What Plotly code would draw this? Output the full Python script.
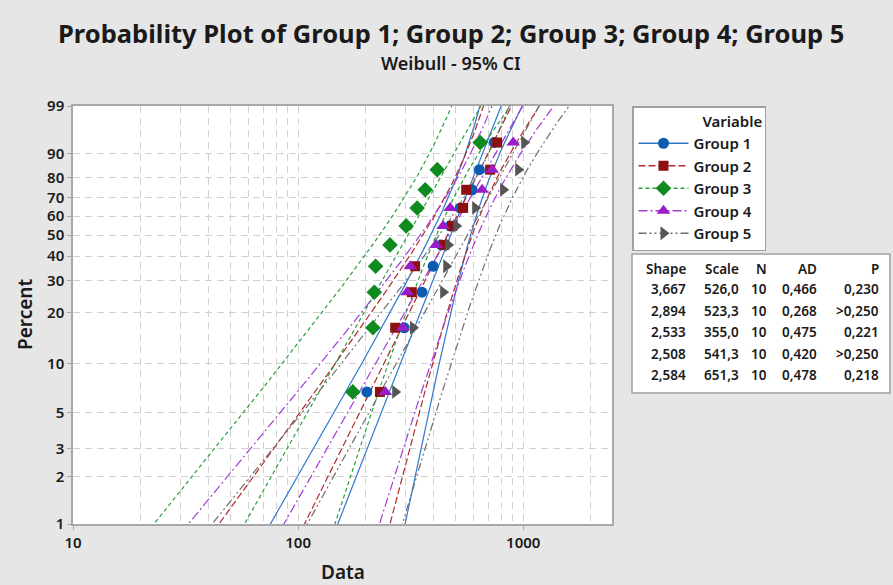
import numpy as np
import plotly.graph_objects as go

# ---------------- data ----------------
groups = ["Group 1", "Group 2", "Group 3", "Group 4", "Group 5"]
shape = [3.667, 2.894, 2.533, 2.508, 2.584]
scale = [526.0, 523.3, 355.0, 541.3, 651.3]
n_obs = [10, 10, 10, 10, 10]
ad_stat = [0.466, 0.268, 0.475, 0.420, 0.478]
p_value = [0.230, 0.250, 0.221, 0.250, 0.218]
p_above = [False, True, False, True, False]

group1 = [202, 296, 355, 398, 432, 474, 525, 593, 639, 743]
group2 = [231, 270, 320, 331, 446, 484, 541, 558, 713, 766]
group3 = [175, 215, 218, 221, 256, 302, 338, 367, 415, 644]
group4 = [244, 292, 305, 315, 410, 441, 474, 657, 728, 903]
group5 = [270, 324, 441, 455, 464, 504, 612, 815, 950, 1010]
group_data = [group1, group2, group3, group4, group5]

percent_ticks = [1, 2, 3, 5, 10, 20, 30, 40, 50, 60, 70, 80, 90, 99]
x_ticks = [10, 100, 1000]
x_minor = [20, 30, 40, 50, 60, 70, 80, 90, 200, 300, 400, 500, 600, 700, 800, 900, 2000]

# ---------------- styles ----------------
marker_colors = ["#0B5CB0", "#8E0F0F", "#0E8A1E", "#9A1CC8", "#555555"]
line_colors = ["#2F78CC", "#B02A2A", "#28A03A", "#A23BD6", "#6E6E6E"]
symbols = ["circle", "square", "diamond", "triangle-up", "triangle-right"]
msizes = [11, 10, 12, 12, 12]
dashes = ["solid", "7px,3px", "4px,3px", "9px,3px,2px,3px", "8px,3px,2px,3px,2px,3px"]

FONT = "Noto Sans, Open Sans, sans-serif"
TXT = "#1A1A1A"
W, H = 893, 585
L, R, T, B = 73, 612, 106, 524
PW, PH = R - L, B - T


def px(xp):
    return (xp - L) / PW


def py(yp):
    return (B - yp) / PH


def wtrans(p):
    p = np.asarray(p, dtype=float)
    return np.log(-np.log(1 - p))


fig = go.Figure()

pgrid = np.linspace(0.005, 0.995, 400)
wgrid = wtrans(pgrid)

for k, g in enumerate(groups):
    x = np.sort(np.asarray(group_data[k], dtype=float))
    n = len(x)
    u = np.log(scale[k])
    b = 1.0 / shape[k]
    z = (np.log(x) - u) / b
    ez = np.exp(z)
    Iuu = n / b**2
    Iub = np.sum(z * ez) / b**2
    Ibb = (n + np.sum(z**2 * ez)) / b**2
    cov = np.linalg.inv(np.array([[Iuu, Iub], [Iub, Ibb]]))
    yp = u + wgrid * b
    var = cov[0, 0] + wgrid**2 * cov[1, 1] + 2 * wgrid * cov[0, 1]
    sd = np.sqrt(var)
    fit_x = np.exp(yp)
    lo_x = np.exp(yp - 1.959964 * sd)
    hi_x = np.exp(yp + 1.959964 * sd)
    line = dict(color=line_colors[k], width=1.2, dash=dashes[k])
    for xs in (lo_x, fit_x, hi_x):
        fig.add_trace(go.Scatter(x=xs, y=wgrid, mode="lines", line=line,
                                 showlegend=False, hoverinfo="skip",
                                 legendgroup=g))
for k, g in enumerate(groups):
    x = np.sort(np.asarray(group_data[k], dtype=float))
    n = len(x)
    ranks = (np.arange(1, n + 1) - 0.3) / (n + 0.4)
    fig.add_trace(go.Scatter(x=x, y=wtrans(ranks), mode="markers",
                             marker=dict(symbol=symbols[k], size=msizes[k],
                                         color=marker_colors[k], line=dict(width=0)),
                             showlegend=False, name=g, legendgroup=g))
# legend entries
for k, g in enumerate(groups):
    fig.add_trace(go.Scatter(x=[None], y=[None], mode="lines+markers",
                             name=g + "\u00a0\u00a0",
                             line=dict(color=line_colors[k], width=1.5, dash=dashes[k]),
                             marker=dict(symbol=symbols[k], size=msizes[k],
                                         color=marker_colors[k], line=dict(width=0)),
                             legendgroup=g, showlegend=True))

grid_col = "#D0D0D0"
axis_col = "#A8A8A8"
tick_font = dict(family=FONT, size=15, color=TXT, weight=600)

fig.update_xaxes(type="log", range=[1, np.log10(2480)],
                 tickvals=x_ticks, ticktext=[str(v) for v in x_ticks],
                 ticks="outside", ticklen=4, tickcolor=axis_col,
                 showgrid=True, gridcolor=grid_col, gridwidth=1, griddash="7px,5px",
                 minor=dict(tickvals=x_minor, showgrid=True, gridcolor=grid_col,
                            gridwidth=1, griddash="7px,5px", ticks=""),
                 showline=True, mirror=True, linecolor=axis_col, linewidth=1.5,
                 zeroline=False, tickfont=tick_font, automargin=False)
fig.update_yaxes(range=[float(wtrans(0.01)), float(wtrans(0.99))],
                 tickvals=list(wtrans(np.array(percent_ticks) / 100.0)),
                 ticktext=[str(v) for v in percent_ticks],
                 ticks="outside", ticklen=4, tickcolor=axis_col,
                 showgrid=True, gridcolor=grid_col, gridwidth=1, griddash="7px,5px",
                 showline=True, mirror=True, linecolor=axis_col, linewidth=1.5,
                 zeroline=False, tickfont=tick_font, automargin=False)

axis_title_font = dict(family=FONT, size=19, color=TXT, weight=600)
annotations = [
    dict(text="Probability Plot of Group 1; Group 2; Group 3; Group 4; Group 5",
         x=px(451), y=py(33), xref="paper", yref="paper", showarrow=False,
         xanchor="center", yanchor="middle",
         font=dict(family=FONT, size=25.5, color=TXT, weight=700)),
    dict(text="Weibull - 95% CI", x=px(451), y=py(63), xref="paper", yref="paper",
         showarrow=False, xanchor="center", yanchor="middle",
         font=dict(family=FONT, size=18, color=TXT, weight=600)),
    dict(text="Data", x=0.5, y=py(572), xref="paper", yref="paper", showarrow=False,
         xanchor="center", yanchor="middle", font=axis_title_font),
    dict(text="Percent", x=px(25), y=0.5, xref="paper", yref="paper", showarrow=False,
         xanchor="center", yanchor="middle", textangle=-90, font=axis_title_font),
]

# statistics table
col_right = [688, 741, 769, 819, 881]
headers = ["Shape", "Scale", "N", "AD", "P"]
row_y = [269, 289, 310.5, 332, 353.5, 375]
cell_font = dict(family=FONT, size=13.5, color=TXT, weight=600)
for c, htxt in enumerate(headers):
    annotations.append(dict(text=htxt, x=px(col_right[c]), y=py(row_y[0]), xref="paper", yref="paper",
                            showarrow=False, xanchor="right", yanchor="middle", font=cell_font))
for k in range(len(groups)):
    vals = [f"{shape[k]:.3f}".replace(".", ","),
            f"{scale[k]:.1f}".replace(".", ","),
            str(n_obs[k]),
            f"{ad_stat[k]:.3f}".replace(".", ","),
            (">" if p_above[k] else "") + f"{p_value[k]:.3f}".replace(".", ",")]
    for c, v in enumerate(vals):
        annotations.append(dict(text=v, x=px(col_right[c]), y=py(row_y[k + 1]), xref="paper", yref="paper",
                                showarrow=False, xanchor="right", yanchor="middle", font=cell_font))

shapes = [dict(type="rect", xref="paper", yref="paper", x0=px(632), x1=px(890), y0=py(393), y1=py(254),
               line=dict(color="#A0A0A0", width=1.5), fillcolor="white", layer="below")]

fig.update_layout(
    width=W, height=H, autosize=False,
    margin=dict(l=L, r=W - R, t=T, b=H - B),
    paper_bgcolor="#E6E6E6", plot_bgcolor="white",
    font=dict(family=FONT, size=13, color=TXT),
    annotations=annotations, shapes=shapes,
    legend=dict(x=px(632), y=py(106), xanchor="left", yanchor="top",
                bgcolor="white", bordercolor="#A0A0A0", borderwidth=1.5,
                font=dict(family=FONT, size=15, color=TXT, weight=600),
                title=dict(text="Variable", side="top right",
                           font=dict(family=FONT, size=15, color=TXT, weight=600)),
                tracegroupgap=0, itemwidth=50),
)

fig.write_html("out.html", config={"displayModeBar": False},
               post_script="document.body.style.margin='0px';")
